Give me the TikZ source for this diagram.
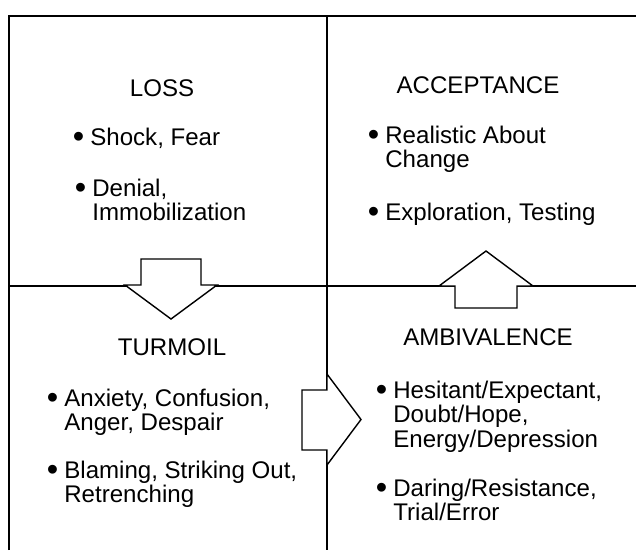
\documentclass[tikz,border=0pt]{standalone}
\usepackage{fontspec}
\setmainfont{Liberation Sans}
\newcommand\bigbul{\raisebox{-1.5pt}{\fontsize{18.5}{18.5}\selectfont\textbullet}}
\newcommand\bitem[1]{\llap{\bigbul\hspace{0.25em}}\begin{tabular}[t]{@{}l@{}}#1\end{tabular}}

\begin{document}
\begin{tikzpicture}[scale=0.2]
\tikzstyle{every node}+=[inner sep=0pt, font=\fontsize{13.7}{14.2}\selectfont]
\tikzstyle{item}=[anchor=base west]
\useasboundingbox (0,0) rectangle (63.6,-55);
% grid
\draw [black, line width=0.8pt] (0.9,-55) -- (0.9,-1.6) -- (63.6,-1.6);
\draw [black, line width=0.8pt] (32.7,-1.6) -- (32.7,-55);
\draw [black, line width=0.8pt] (0.9,-28.6) -- (63.6,-28.6);
% block arrows
\filldraw [fill=white, draw=black, line width=0.8pt] (14.1,-25.9) -- (20.1,-25.9) -- (20.1,-28.5) -- (21.7,-28.5) -- (17.1,-31.9) -- (12.5,-28.5) -- (14.1,-28.5) -- cycle;
\filldraw [fill=white, draw=black, line width=0.8pt] (45.5,-30.8) -- (51.7,-30.8) -- (51.7,-28.6) -- (53.3,-28.6) -- (48.6,-25.1) -- (43.9,-28.6) -- (45.5,-28.6) -- cycle;
\filldraw [fill=white, draw=black, line width=0.8pt] (30.2,-39.0) -- (32.7,-39.0) -- (32.7,-37.4) -- (36.1,-41.95) -- (32.7,-46.5) -- (32.7,-45.0) -- (30.2,-45.0) -- cycle;
% LOSS
\draw (16.2,-8.8) node (loss) {LOSS};
\draw (9.0,-14.5) node [item] (lossA) {\bitem{Shock, Fear}};
\draw (9.2,-19.6) node [item] (lossB) {\bitem{Denial,\\Immobilization}};
% ACCEPTANCE
\draw (47.8,-8.5) node (accept) {ACCEPTANCE};
\draw (38.5,-14.3) node [item] (acceptA) {\bitem{Realistic About\\Change}};
\draw (38.5,-22.0) node [item] (acceptB) {\bitem{Exploration, Testing}};
% TURMOIL
\draw (17.2,-34.7) node (turmoil) {TURMOIL};
\draw (6.4,-40.6) node [item] (turmoilA) {\bitem{Anxiety, Confusion,\\Anger, Despair}};
\draw (6.4,-47.8) node [item] (turmoilB) {\bitem{Blaming, Striking Out,\\Retrenching}};
% AMBIVALENCE
\draw (48.8,-33.7) node (ambiv) {AMBIVALENCE};
\draw (39.3,-39.8) node [item] (ambivA) {\bitem{Hesitant/Expectant,\\Doubt/Hope,\\Energy/Depression}};
\draw (39.3,-49.6) node [item] (ambivB) {\bitem{Daring/Resistance,\\Trial/Error}};
\end{tikzpicture}
\end{document}
